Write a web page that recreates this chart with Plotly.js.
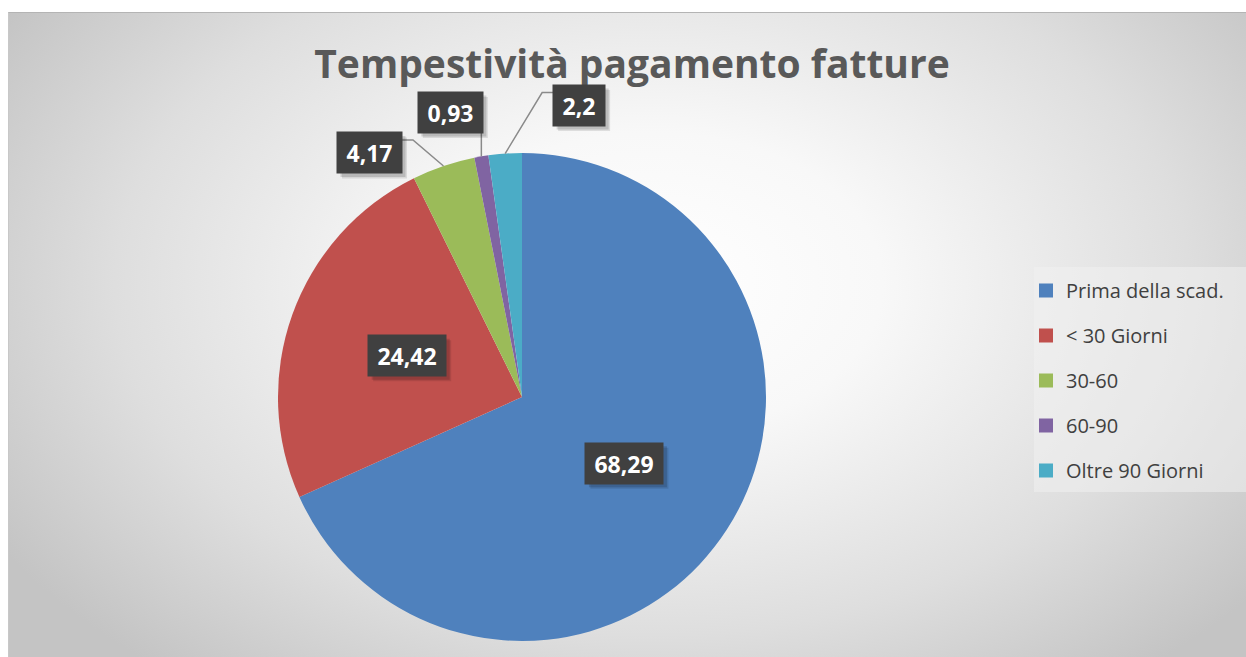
<!DOCTYPE html>
<html>
<head>
<meta charset="utf-8">
<script src="https://cdn.plot.ly/plotly-3.0.1.min.js"></script>
<style>
  html, body { margin: 0; padding: 0; background: #ffffff; }
  #bg { position: absolute; left: 8px; top: 12px; width: 1238px; height: 645px;
        border-top: 1px solid #b4b4b4; border-left: 1px solid #c8c8c8; box-sizing: border-box;
        background: radial-gradient(ellipse 62% 78% at 52% 42%, #ffffff 0%, #f8f8f8 30%, #dedede 70%, #c4c4c4 100%); }
  #chart { position: absolute; left: 0; top: 0; width: 1246px; height: 657px; }
</style>
</head>
<body>
<div id="bg"></div>
<div id="chart"></div>
<script>
// ---- data ----
const categories = ['Prima della scad.', '&lt; 30 Giorni', '30-60', '60-90', 'Oltre 90 Giorni'];
const values = [68.29, 24.42, 4.17, 0.93, 2.2];
const valueLabels = ['68,29', '24,42', '4,17', '0,93', '2,2'];
const colors = ['#4F81BD', '#C0504D', '#9BBB59', '#8064A2', '#4BACC6'];

// ---- layout geometry (pixels) ----
const W = 1246, H = 657;
const CX = 522, CY = 397, R = 244;
const labelOffsets = [null, null, [-74, -13], [-31, -44], [74, -48]]; // px from slice edge
const px = x => x / W;
const py = y => 1 - y / H;

const total = values.reduce((a, b) => a + b, 0);
let cum = 0;
const mids = values.map(v => { const m = (cum + v / 2) / total; cum += v; return m * 2 * Math.PI; });

const annotations = [];
const shapes = [];

// legend background panel
shapes.push({type: 'rect', xref: 'paper', yref: 'paper', layer: 'below',
  x0: px(1034), x1: px(1246), y0: py(492), y1: py(267),
  fillcolor: 'rgba(240,240,240,0.55)', line: {width: 0}});

const PAD = 4;
valueLabels.forEach((t, i) => {
  const a = mids[i];
  const sx = Math.sin(a), sy = -Math.cos(a);
  let bx, by;
  const digits = t.replace(/[^0-9]/g, '').length;
  const commas = t.length - digits;
  const w = 13 * digits + 6 * commas + 12;
  const h = 33;
  const halfW = w / 2 + PAD, halfH = h / 2 + PAD;
  if (!labelOffsets[i]) {
    bx = CX + sx * R * 0.5; by = CY + sy * R * 0.5;
  } else {
    const ex = CX + sx * R, ey = CY + sy * R;
    bx = ex + labelOffsets[i][0]; by = ey + labelOffsets[i][1];
    let pts;
    if (labelOffsets[i][0] < -50) {
      const yy = by - 13;
      pts = [[ex, ey], [bx + halfW + 11, yy], [bx + halfW, yy]];
    } else if (labelOffsets[i][0] > 50) {
      const yy = by - 13;
      pts = [[ex, ey], [bx - halfW - 11, yy], [bx - halfW, yy]];
    } else {
      pts = [[ex, ey], [ex, by + halfH]];
    }
    const path = pts.map((p, k) => (k ? 'L' : 'M') + px(p[0]).toFixed(5) + ',' + py(p[1]).toFixed(5)).join(' ');
    shapes.push({type: 'path', xref: 'paper', yref: 'paper', path: path, layer: 'above',
      line: {color: '#8a8a8a', width: 1.5}});
  }
  // soft drop shadow
  [[5, 0.10], [3.5, 0.14]].forEach(([o, al]) => {
    shapes.push({type: 'rect', xref: 'paper', yref: 'paper', layer: 'above',
      x0: px(bx - halfW + o), x1: px(bx + halfW + o), y0: py(by + halfH + o), y1: py(by - halfH + o),
      fillcolor: 'rgba(0,0,0,' + al + ')', line: {width: 0}});
  });
  annotations.push({xref: 'paper', yref: 'paper', x: px(bx), y: py(by), xanchor: 'center', yanchor: 'middle',
    text: '<b>' + t + '</b>', showarrow: false, width: w, height: h, borderpad: PAD,
    bgcolor: '#404040', font: {family: 'Open Sans', size: 23, color: '#ffffff'}});
});

const traces = [{
  type: 'pie', values: values, labels: categories, sort: false, direction: 'clockwise', rotation: 0,
  marker: {colors: colors, line: {width: 0}}, textinfo: 'none', hoverinfo: 'label+value', showlegend: false,
  domain: {x: [px(CX - R), px(CX + R)], y: [py(CY + R), py(CY - R)]}
}];
categories.forEach((c, i) => {
  traces.push({type: 'scatter', mode: 'markers', x: [null], y: [null], name: c, legendgroup: 'g' + i,
    marker: {symbol: 'square', size: 14, color: colors[i]}, hoverinfo: 'skip'});
});

const layout = {
  width: W, height: H, margin: {l: 0, r: 0, t: 0, b: 0},
  paper_bgcolor: 'rgba(0,0,0,0)', plot_bgcolor: 'rgba(0,0,0,0)',
  title: {text: '<b>Tempestività pagamento fatture</b>', x: px(632), xanchor: 'center', xref: 'container',
    y: py(64), yanchor: 'middle', yref: 'container',
    font: {family: 'Open Sans', size: 39, color: '#595959'}},
  xaxis: {visible: false, showgrid: false, zeroline: false},
  yaxis: {visible: false, showgrid: false, zeroline: false},
  showlegend: true,
  legend: {x: px(1026), xanchor: 'left', y: py(271), yanchor: 'top', bgcolor: 'rgba(0,0,0,0)',
    font: {family: 'Open Sans', size: 20, color: '#404040'}, tracegroupgap: 16, traceorder: 'grouped'},
  shapes: shapes,
  annotations: annotations
};

Plotly.newPlot('chart', traces, layout, {displayModeBar: false, staticPlot: true});
</script>
</body>
</html>
